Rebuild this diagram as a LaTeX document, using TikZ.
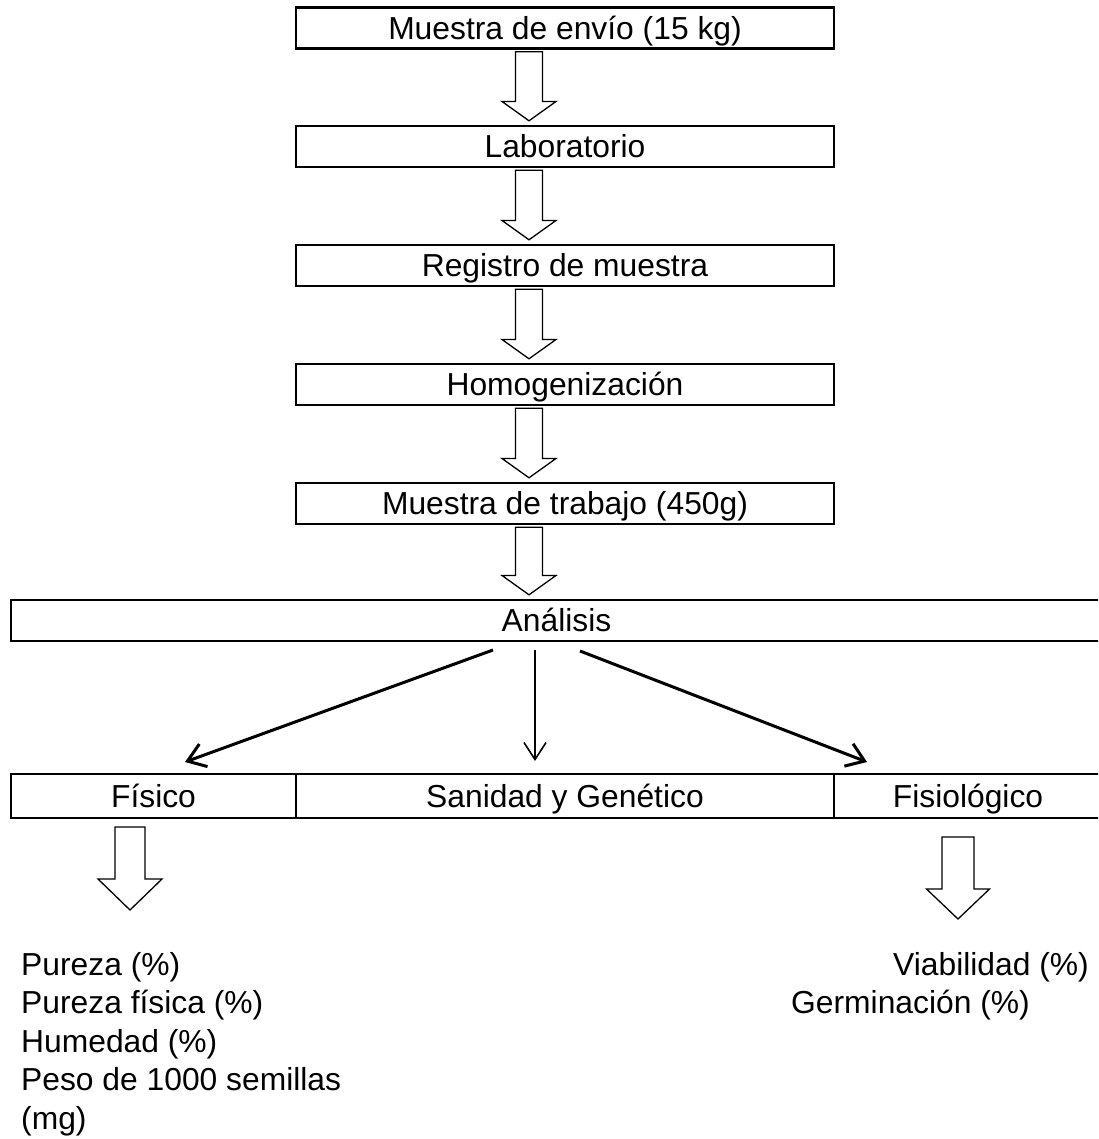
\documentclass[tikz,border=0pt]{standalone}
\usepackage{fontspec}
\setmainfont{Liberation Sans}
\usetikzlibrary{arrows.meta,calc}
\newcommand\blkconn[2]{\draw[blk] let \p1=(#1.south), \p2=(#2.north) in
 (\x1-49.5pt,\y1-2pt) -- (\x1-22.5pt,\y1-2pt) -- (\x1-22.5pt,\y2+23.3pt) -- (\x1-9pt,\y2+23.3pt)
 -- (\x1-36pt,\y2+4pt) -- (\x1-63pt,\y2+23.3pt) -- (\x1-49.5pt,\y2+23.3pt) -- cycle;}
\begin{document}
\begin{tikzpicture}[x=1pt,y=-1pt,
  txt/.style={font=\fontsize{31.8}{38.5}\selectfont, inner sep=0pt},
  box/.style={txt, draw, line width=2.4pt, minimum height=41pt, text height=22.8pt, text depth=0pt},
  rowbox/.style={box, minimum height=44pt},
  blk/.style={draw, line width=1.3pt, fill=white, line join=miter},
  thickarr/.style={line width=3pt, -{Straight Barb[length=17pt,width=24pt]}},
  thinarr/.style={line width=1.6pt, -{Straight Barb[length=17pt,width=22pt]}}]
\clip (0,0) rectangle (1098,1139);
\fill[white] (0,0) rectangle (1098,1139);

\node[box, minimum width=538pt] (b1) at (565,28) {Muestra de envío (15 kg)};
\node[box, minimum width=538pt] (b2) at (565,146.5) {Laboratorio};
\node[box, minimum width=538pt] (b3) at (565,265.5) {Registro de muestra};
\node[box, minimum width=538pt] (b4) at (565,384.5) {Homogenización};
\node[box, minimum width=538pt] (b5) at (565,503.5) {Muestra de trabajo (450g)};
\node[box, minimum width=1091pt] (an) at (556.5,620.5) {Análisis};

\node[rowbox, minimum width=285pt] (fis) at (153.5,796) {Físico};
\node[rowbox, minimum width=538pt] (san) at (565,796) {Sanidad y Genético};
\node[rowbox, minimum width=268pt] (fio) at (968,796) {Fisiológico};

\blkconn{b1}{b2}
\blkconn{b2}{b3}
\blkconn{b3}{b4}
\blkconn{b4}{b5}
\blkconn{b5}{an}

\coordinate (s1) at (493,650);
\coordinate (e1) at (185,762);
\coordinate (s2) at (535,650);
\coordinate (e2) at (535,761);
\coordinate (s3) at (580,651);
\coordinate (e3) at (867,762);
\draw[thickarr] (s1) -- (e1);
\draw[thinarr] (s2) -- (e2);
\draw[thickarr] (s3) -- (e3);

% block arrows below the row
\draw[blk] (115,827) -- (145,827) -- (145,879) -- (162,879) -- (130,910) -- (98,879) -- (115,879) -- cycle;
\draw[blk] (942,837) -- (974,837) -- (974,889) -- (989.5,889) -- (958,919) -- (926.5,889) -- (942,889) -- cycle;

\node[txt, anchor=base west, align=left] (lst) at (21,1129) {Pureza (\%)\\Pureza física (\%)\\Humedad (\%)\\Peso de 1000 semillas\\(mg)};
\node[txt, anchor=base east] (via) at (1089,975) {Viabilidad (\%)};
\node[txt, anchor=base west] (ger) at (791,1013.5) {Germinación (\%)};
\end{tikzpicture}
\end{document}
